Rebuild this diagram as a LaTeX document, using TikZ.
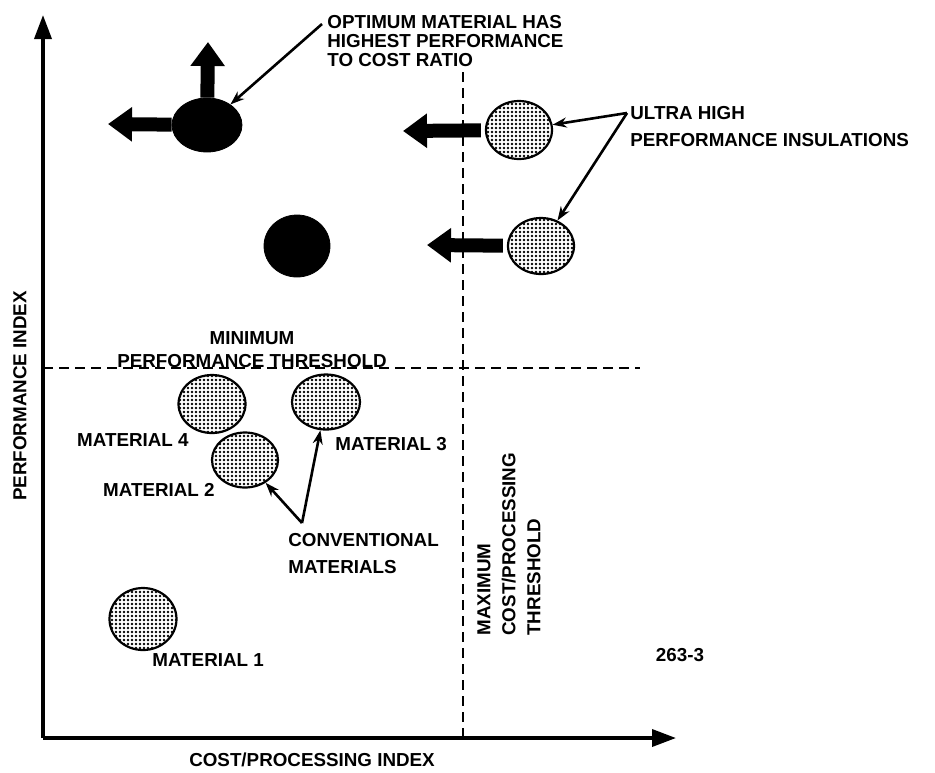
\documentclass[tikz,border=0pt]{standalone}
\usepackage{fontspec}
\setmainfont{Liberation Sans}
\usepackage{tikz}
\usetikzlibrary{positioning,arrows.meta,shapes.geometric,patterns.meta}

\begin{document}
\begin{tikzpicture}[
    x=0.5pt, y=-0.5pt,
    every node/.style={font=\bfseries\fontsize{9.4}{13.5}\selectfont},
    dotblob/.style={draw, ellipse, line width=1.1pt, inner sep=0pt,
        pattern={Dots[distance=2pt, radius=0.7pt]}},
    darkblob/.style={draw, ellipse, fill=black, inner sep=0pt},
    lbl/.style={inner sep=0pt, align=left},
    axisline/.style={line width=1.8pt, -{Triangle[length=12pt, width=8.5pt]}},
    limit/.style={dash pattern=on 5pt off 3pt, line width=1pt},
    movearrow/.style={line width=7pt, -{Triangle[length=12pt, width=16.5pt]}},
    callout/.style={line width=1.3pt, -{Stealth[length=7pt, width=5pt]}},
]
\useasboundingbox (0,0) rectangle (935,772);

% Axes
\coordinate (orig) at (43,738);
\coordinate (ytip) at (43,15);
\coordinate (xtip) at (676,738);
\draw[axisline] (orig) -- (ytip);
\draw[axisline] (orig) -- (xtip);
\node[rotate=90] (ylbl) at (20,396) {PERFORMANCE INDEX};
\node (xlbl) at (312,760) {COST/PROCESSING INDEX};

% Threshold lines
\coordinate (costtop) at (463,72);
\coordinate (costbot) at (463,738);
\draw[limit] (costtop) -- (costbot);
\coordinate (perfleft) at (43,368);
\coordinate (perfright) at (640,368);
\draw[limit] (perfleft) -- (perfright);
\node[lbl, align=center, anchor=south, font=\bfseries\fontsize{9.4}{11.5}\selectfont]
    (perflbl) at (252,368) {MINIMUM\\PERFORMANCE THRESHOLD};
\node[lbl, rotate=90, anchor=north west, font=\bfseries\fontsize{9.4}{12.5}\selectfont]
    (costlbl) at (477,636) {MAXIMUM\\COST/PROCESSING\\THRESHOLD};

% Materials
\node[darkblob, minimum width=35pt, minimum height=27pt] (optimum) at (207,125) {};
\node[darkblob, minimum width=33pt, minimum height=31pt] (second) at (297,246) {};
\node[dotblob, minimum width=33pt, minimum height=29pt] (ultraA) at (519,130) {};
\node[dotblob, minimum width=33pt, minimum height=28pt] (ultraB) at (541,246) {};
\node[dotblob, minimum width=33.5pt, minimum height=29pt] (mat4) at (212,404) {};
\node[dotblob, minimum width=34pt, minimum height=27.5pt] (mat3) at (326,402) {};
\node[dotblob, minimum width=33pt, minimum height=27.5pt] (mat2) at (245,460) {};
\node[dotblob, minimum width=33.5pt, minimum height=31pt] (mat1) at (143,619) {};

\node[lbl, anchor=east] (mat4lbl) at (189,440) {MATERIAL 4};
\node[lbl, anchor=west] (mat3lbl) at (335,444) {MATERIAL 3};
\node[lbl, anchor=east] (mat2lbl) at (215,490) {MATERIAL 2};
\node[lbl, anchor=west] (mat1lbl) at (152,660) {MATERIAL 1};
\node[lbl] (figno) at (680,655) {263-3};

% Callouts
\node[lbl, anchor=west, font=\bfseries\fontsize{9.4}{9.6}\selectfont] (optlbl) at (327,41)
    {OPTIMUM MATERIAL HAS\\HIGHEST PERFORMANCE\\TO COST RATIO};
\node[lbl, anchor=west] (ultralbl) at (630,127) {ULTRA HIGH\\PERFORMANCE INSULATIONS};
\node[lbl, anchor=west] (convlbl) at (288,554) {CONVENTIONAL\\MATERIALS};

\coordinate (optfoot) at (322,24);
\coordinate (ultrafoot) at (627,113);
\coordinate (convfoot) at (302,523);
\draw[callout] (optfoot) -- (optimum);
\draw[callout] (ultrafoot) -- (ultraA);
\draw[callout] (ultrafoot) -- (ultraB);
\draw[callout] (convfoot) -- (mat2);
\draw[callout] (convfoot) -- (mat3);

% Direction arrows
\coordinate (optup) at (208,42);
\coordinate (optleft) at (108,124);
\coordinate (ultraAleft) at (403,131);
\coordinate (ultraBleft) at (427,245);
\draw[movearrow] (optimum) -- (optup);
\draw[movearrow] (optimum) -- (optleft);
\draw[movearrow, shorten <=2pt] (ultraA) -- (ultraAleft);
\draw[movearrow, shorten <=2pt] (ultraB) -- (ultraBleft);

\end{tikzpicture}
\end{document}
